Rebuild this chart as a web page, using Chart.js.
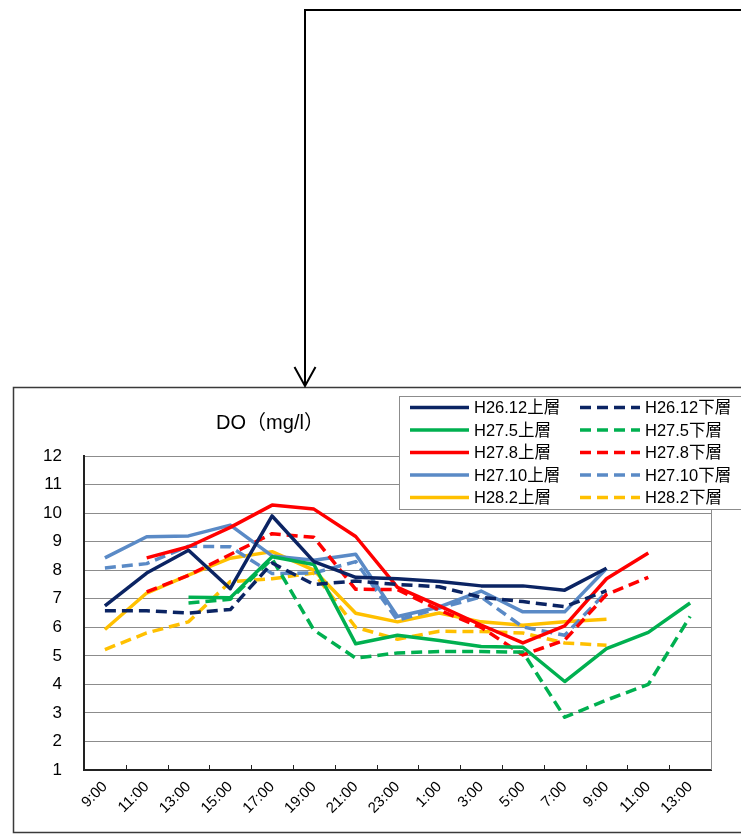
<!DOCTYPE html>
<html><head><meta charset="utf-8">
<script src="https://cdn.jsdelivr.net/npm/chart.js@4"></script>
<style>html,body{margin:0;padding:0;background:#fff}canvas{display:block}</style>
</head><body>
<canvas id="c" width="741" height="835" style="width:741px;height:835px"></canvas>
<script>
const chartTitle = 'DO（mg/l）';
const categories = ['9:00','11:00','13:00','15:00','17:00','19:00','21:00','23:00','1:00','3:00','5:00','7:00','9:00','11:00','13:00'];
const yTicks = [1,2,3,4,5,6,7,8,9,10,11,12];
const seriesNames = ['H26.12上層','H26.12下層','H27.5上層','H27.5下層','H27.8上層','H27.8下層','H27.10上層','H27.10下層','H28.2上層','H28.2下層'];
const h2612Upper = [6.75, 7.9, 8.7, 7.35, 9.9, 8.3, 7.75, 7.7, 7.6, 7.45, 7.45, 7.3, 8.07, null, null];
const h2612Lower = [6.58, 6.58, 6.5, 6.62, 8.25, 7.5, 7.62, 7.5, 7.42, 7.05, 6.9, 6.72, 7.28, null, null];
const h275Upper  = [null, null, 7.05, 7.03, 8.47, 8.2, 5.42, 5.72, 5.54, 5.33, 5.3, 4.1, 5.25, 5.82, 6.85];
const h275Lower  = [null, null, 6.85, 6.98, 8.4, 5.9, 4.92, 5.1, 5.15, 5.15, 5.13, 2.85, 3.45, 4.0, 6.38];
const h278Upper  = [null, 8.43, 8.82, 9.5, 10.28, 10.14, 9.18, 7.4, 6.75, 6.08, 5.45, 6.05, 7.7, 8.6, null];
const h278Lower  = [null, 7.24, 7.82, 8.55, 9.28, 9.15, 7.33, 7.32, 6.6, 6.0, 5.03, 5.55, 7.15, 7.75, null];
const h2710Upper = [8.43, 9.17, 9.2, 9.58, 8.5, 8.35, 8.56, 6.38, 6.71, 7.27, 6.54, 6.54, 8.06, null, null];
const h2710Lower = [8.08, 8.23, 8.84, 8.82, 7.88, 7.9, 8.3, 6.25, 6.67, 7.06, 6.01, 5.72, 7.24, null, null];
const h282Upper  = [5.92, 7.2, 7.83, 8.42, 8.65, 8.0, 6.49, 6.19, 6.5, 6.19, 6.07, 6.19, 6.28, null, null];
const h282Lower  = [5.22, 5.8, 6.19, 7.6, 7.7, 7.9, 6.0, 5.58, 5.86, 5.85, 5.8, 5.45, 5.37, null, null];

const seriesData = [h2612Upper,h2612Lower,h275Upper,h275Lower,h278Upper,h278Lower,h2710Upper,h2710Lower,h282Upper,h282Lower];
const colors = ['#0b2463','#0b2463','#00b050','#00b050','#ff0000','#ff0000','#5a8ac6','#5a8ac6','#ffc000','#ffc000'];
const DASH = [11,6];

const FONT = '"Liberation Sans","Noto Sans CJK JP",sans-serif';
Chart.defaults.font.family = FONT;
Chart.defaults.color = '#000';

const datasets = seriesNames.map((n,i)=>({
  label:n, data:seriesData[i], borderColor:colors[i], backgroundColor:colors[i],
  borderWidth:3.5, borderDash: i%2 ? DASH : [], pointRadius:0, tension:0,
  borderJoinStyle:'round', spanGaps:false, fill:false
}));

const deco = {
  id:'deco',
  beforeDraw(chart){
    const ctx = chart.ctx;
    ctx.save();
    ctx.fillStyle='#fff'; ctx.fillRect(0,0,chart.width,chart.height);
    ctx.strokeStyle='#3a3a3a'; ctx.lineWidth=1.5;
    ctx.strokeRect(13.5,387.5,760,445);
    ctx.strokeStyle='#000'; ctx.lineWidth=2;
    ctx.beginPath(); ctx.moveTo(745,10); ctx.lineTo(305,10); ctx.lineTo(305,385); ctx.stroke();
    ctx.beginPath(); ctx.moveTo(294.5,367); ctx.lineTo(305,386); ctx.lineTo(315.5,367); ctx.stroke();
    ctx.restore();
  },
  afterDraw(chart){
    const ctx = chart.ctx, a = chart.chartArea, xs = chart.scales.x;
    ctx.save();
    ctx.strokeStyle='#222'; ctx.lineWidth=1;
    const step = xs.getPixelForValue(1)-xs.getPixelForValue(0);
    for(let i=1;i<categories.length;i++){
      const x = Math.round(xs.getPixelForValue(i)-step/2)+0.5;
      ctx.beginPath(); ctx.moveTo(x,a.bottom); ctx.lineTo(x,a.bottom-5); ctx.stroke();
    }
    ctx.strokeStyle='#8c8c8c';
    ctx.beginPath(); ctx.moveTo(a.right+0.5,a.top); ctx.lineTo(a.right+0.5,a.bottom); ctx.stroke();
    ctx.fillStyle='#000'; ctx.font='20px '+FONT; ctx.textAlign='center'; ctx.textBaseline='middle';
    ctx.fillText(chartTitle,270,423);
    ctx.fillStyle='#fff'; ctx.fillRect(399.5,396.5,360,113);
    ctx.strokeStyle='#8c8c8c'; ctx.lineWidth=1; ctx.strokeRect(399.5,396.5,360,113);
    ctx.font='16.5px '+FONT; ctx.textAlign='left';
    chart.data.datasets.forEach((ds,i)=>{
      const row=Math.floor(i/2), col=i%2;
      const y = 407.5 + row*22.5;
      const x0 = col ? 580 : 410, x1 = col ? 640 : 469, tx = col ? 645 : 474;
      ctx.strokeStyle=ds.borderColor; ctx.lineWidth=3.5; ctx.lineCap='butt';
      ctx.setLineDash(ds.borderDash||[]);
      ctx.beginPath(); ctx.moveTo(x0,y); ctx.lineTo(x1,y); ctx.stroke();
      ctx.setLineDash([]);
      ctx.fillStyle='#000'; ctx.fillText(ds.label,tx,y+1);
    });
    ctx.restore();
  }
};

new Chart(document.getElementById('c'),{
  type:'line',
  data:{labels:categories, datasets},
  plugins:[deco],
  options:{
    responsive:false, animation:false,
    layout:{padding:{left:0,top:456,right:30,bottom:0}},
    plugins:{legend:{display:false},title:{display:false},tooltip:{enabled:false}},
    scales:{
      x:{
        offset:true,
        grid:{display:false, drawTicks:false},
        border:{display:true,color:'#222',width:2},
        ticks:{autoSkip:false,minRotation:45,maxRotation:45,padding:8,font:{size:15}},
        afterFit(s){s.height=65;}
      },
      y:{
        min:1,max:12,
        afterBuildTicks(s){s.ticks = yTicks.map(v=>({value:v}));},
        grid:{color:'#8c8c8c',lineWidth:1,drawTicks:false},
        border:{display:true,color:'#222',width:2},
        ticks:{padding:22,font:{size:17}},
        afterFit(s){s.width=84;}
      }
    }
  }
});
</script>
</body></html>
